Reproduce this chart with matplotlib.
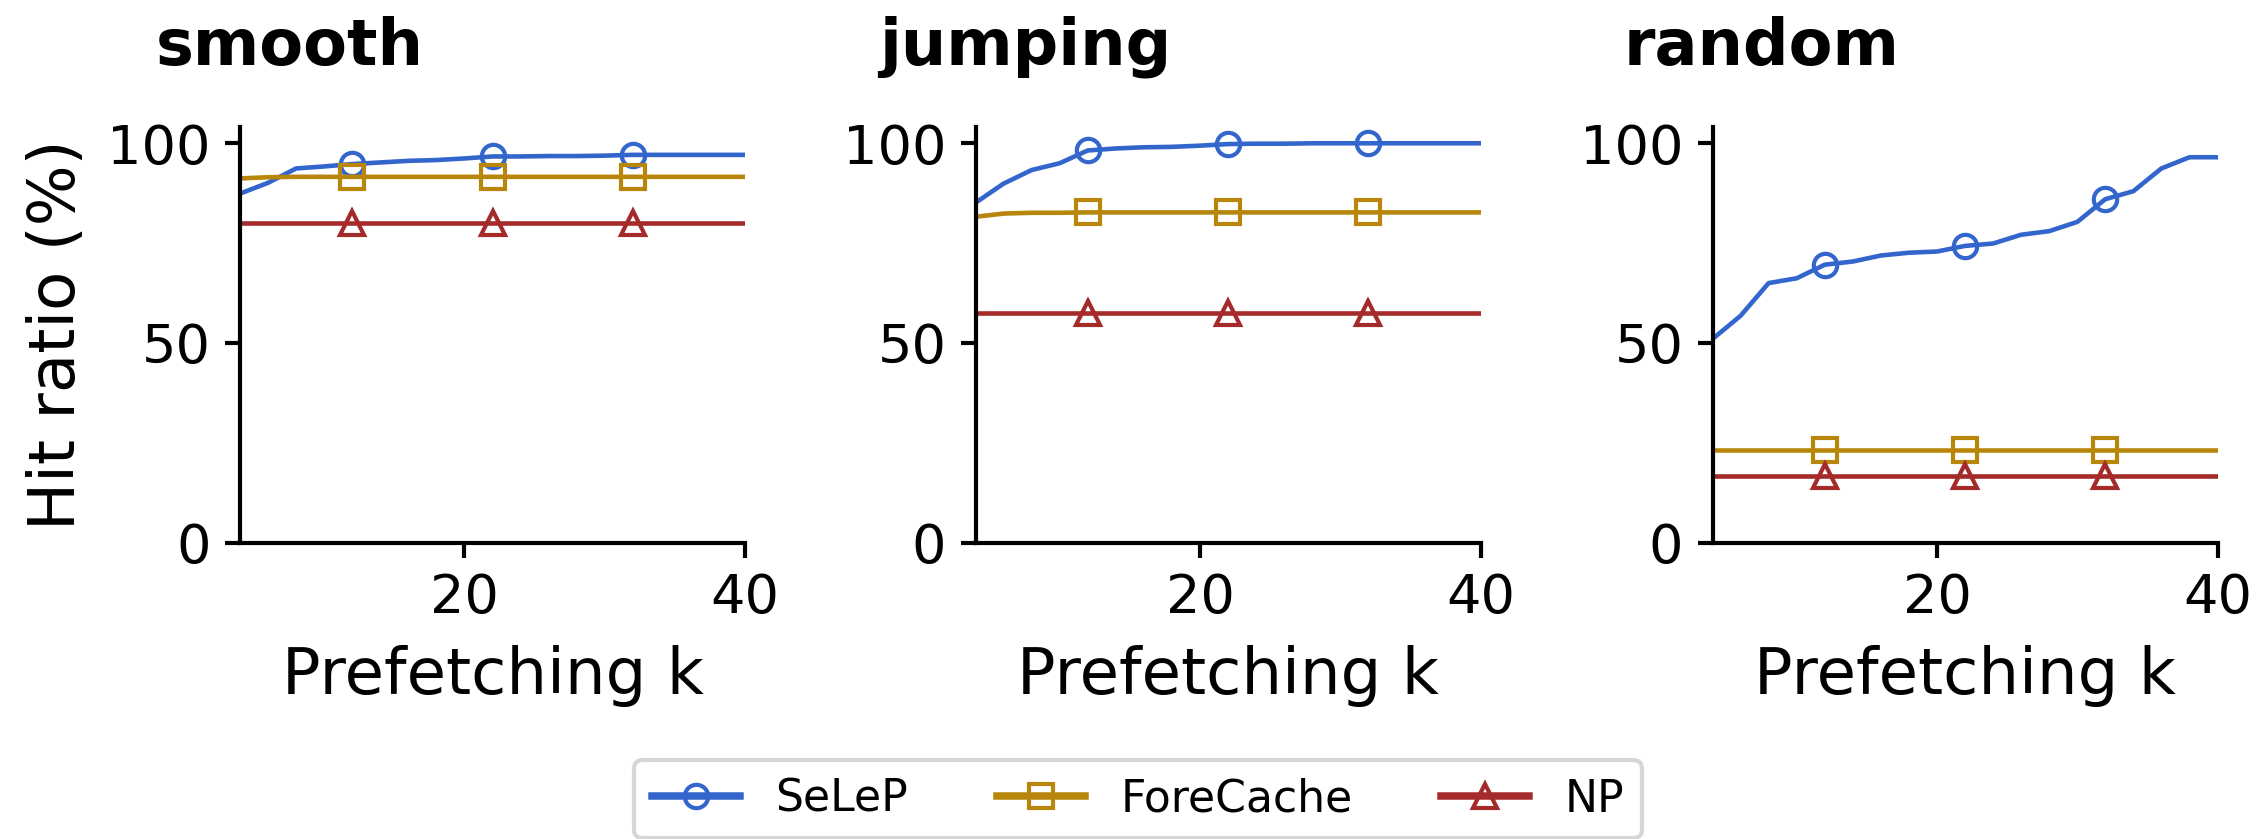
import matplotlib
matplotlib.use("Agg")
import matplotlib.pyplot as plt
import numpy as np

# ---- data ----
k_values = [4, 6, 8, 10, 12, 14, 16, 18, 20, 22, 24, 26, 28, 30, 32, 34, 36, 38, 40]
panel_titles = ["smooth", "jumping", "random"]
series_names = ["SeLeP", "ForeCache", "NP"]

selep_smooth = [87.4, 90.1, 93.7, 94.2, 94.8, 95.2, 95.6, 95.8, 96.2, 96.7, 96.7, 96.8,
                96.8, 96.9, 97.1, 97.1, 97.1, 97.1, 97.1]
forecache_smooth = [91.2, 91.5, 91.6, 91.6, 91.6, 91.6, 91.6, 91.6, 91.6, 91.6, 91.6, 91.6,
                    91.6, 91.6, 91.6, 91.6, 91.6, 91.6, 91.6]
np_smooth = [80.1] * 19

selep_jumping = [85.1, 89.9, 93.3, 95.0, 98.2, 98.7, 99.0, 99.1, 99.4, 99.8, 99.9, 99.9,
                 100.0, 100.0, 100.0, 100.0, 100.0, 100.0, 100.0]
forecache_jumping = [81.6, 82.4, 82.6, 82.6, 82.7, 82.7, 82.7, 82.7, 82.7, 82.7, 82.7, 82.7,
                     82.7, 82.7, 82.7, 82.7, 82.7, 82.7, 82.7]
np_jumping = [57.5] * 19

selep_random = [51.0, 56.8, 65.0, 66.2, 69.6, 70.4, 71.9, 72.6, 72.9, 74.3, 74.9, 77.1,
                78.0, 80.3, 86.0, 88.0, 93.7, 96.5, 96.5]
forecache_random = [23.3] * 19
np_random = [16.6] * 19

panel_data = [
    [selep_smooth, forecache_smooth, np_smooth],
    [selep_jumping, forecache_jumping, np_jumping],
    [selep_random, forecache_random, np_random],
]

x_ticks = [20, 40]
y_ticks = [0, 50, 100]

# ---- style ----
colors = ["#3366cc", "#b8860b", "#a52a2a"]
markers = ["o", "s", "^"]

W, H, DPI = 2258, 839, 300
fig = plt.figure(figsize=(W / DPI, H / DPI), dpi=DPI)

lefts = [240, 975.5, 1712.5]
ax_w = 505
ax_bottom = 542.7
ax_top = 127.3

tick_fs = 13.0
label_fs = 15.4
title_fs = 15.3
legend_fs = 10.6

axes = []
for i, (left, title) in enumerate(zip(lefts, panel_titles)):
    ax = fig.add_axes([left / W, 1 - ax_bottom / H, ax_w / W, (ax_bottom - ax_top) / H])
    axes.append(ax)
    for s, (name, c, m) in enumerate(zip(series_names, colors, markers)):
        ax.plot(k_values, panel_data[i][s], color=c, lw=1.1, marker=m,
                markevery=(4, 5), markersize=5.6, markerfacecolor="none",
                markeredgewidth=1.0, markeredgecolor=c, label=name)
    ax.set_xlim(4, 40)
    ax.set_ylim(0, 104)
    ax.set_xticks(x_ticks)
    ax.set_yticks(y_ticks)
    ax.tick_params(labelsize=tick_fs, width=1.0, length=3.5)
    for sp in ["top", "right"]:
        ax.spines[sp].set_visible(False)
    for sp in ["left", "bottom"]:
        ax.spines[sp].set_linewidth(1.0)
    ax.set_xlabel("Prefetching k", fontsize=label_fs, labelpad=5)
    ax.set_title(title, loc="center", x=0.098, fontsize=title_fs, fontweight="bold", pad=15)

axes[0].set_ylabel("Hit ratio (%)", fontsize=label_fs, labelpad=4.6)

handles, labels = axes[0].get_legend_handles_labels()
leg = fig.legend(handles, labels, loc="upper center", bbox_to_anchor=(0.504, 1 - 760 / H),
                 ncol=3, fontsize=legend_fs, frameon=True, borderaxespad=0)
for h in leg.legend_handles:
    h.set_linewidth(1.8)

fig.savefig("out.png", dpi=DPI)
